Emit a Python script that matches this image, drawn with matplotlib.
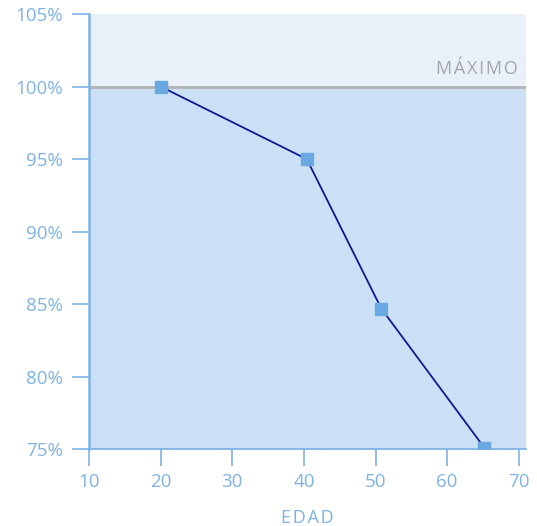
import matplotlib
matplotlib.use("Agg")
import matplotlib.pyplot as plt
from matplotlib.ticker import FuncFormatter

edad = [20, 40.4, 50.8, 65.2]
porcentaje = [100, 95, 84.7, 75.1]
maximo = 100
x_ticks = [10, 20, 30, 40, 50, 60, 70]
y_ticks = [75, 80, 85, 90, 95, 100, 105]

azul_txt = "#7fb3e6"
plt.rcParams["font.family"] = ["Open Sans", "DejaVu Sans"]

fig = plt.figure(figsize=(5.37, 5.26), dpi=100)
ax = fig.add_axes([0.1657, 0.1458, 0.8138, 0.8276])
ax.set_facecolor("#e8f0fa")
ax.set_xlim(10, 71)
ax.set_ylim(75, 105)

# zona por debajo del maximo
ax.axhspan(75, maximo, color="#cce0f5", zorder=0)
ax.axhline(maximo, color="#b3b3b3", lw=2, zorder=1)
ax.text(69.8, maximo + 0.85, "\u200a".join("MÁXIMO"), color="#a6a6a6",
        fontsize=13, ha="right", va="baseline")

ax.plot(edad, porcentaje, color="#0d1a94", lw=1.3, zorder=2)
ax.plot(edad, porcentaje, ls="none", marker="s", ms=8.5, color="#6aa8e2", zorder=3)

ax.set_xticks(x_ticks)
ax.set_yticks(y_ticks)
ax.yaxis.set_major_formatter(FuncFormatter(lambda v, p: f"{v:.0f}%"))
ax.tick_params(axis="both", colors="#7fb3e6", labelcolor=azul_txt, labelsize=13.5,
               length=12, width=1.2, direction="out")
ax.tick_params(axis="y", pad=7)
ax.tick_params(axis="x", pad=5)

for s in ["top", "right"]:
    ax.spines[s].set_visible(False)
ax.spines["left"].set_color("#7fb3e6")
ax.spines["left"].set_linewidth(1.8)
ax.spines["bottom"].set_color("#7fb3e6")
ax.spines["bottom"].set_linewidth(1.3)

ax.set_xlabel("\u200a".join("EDAD"), color=azul_txt, fontsize=13, labelpad=13)

fig.savefig("out.png", dpi=100)
